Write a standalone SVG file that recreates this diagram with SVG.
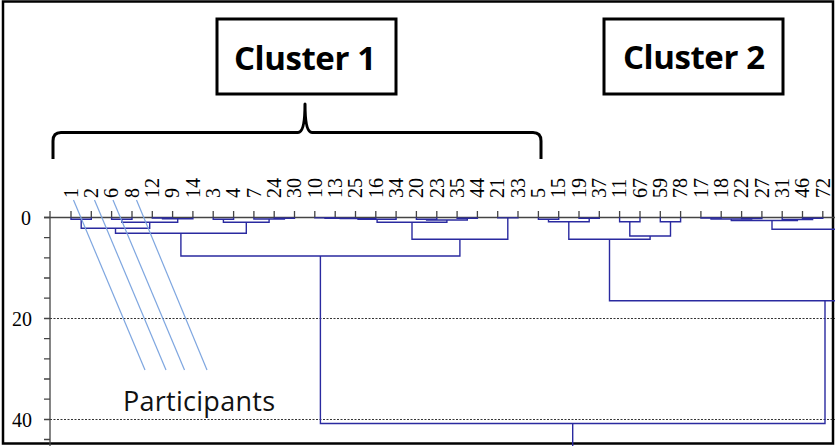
<svg xmlns="http://www.w3.org/2000/svg" width="835" height="446" viewBox="0 0 835 446">
<defs>
<style>
.frame{fill:#fff;stroke:#000;stroke-width:2.5}
.box{fill:#fff;stroke:#000;stroke-width:3}
.ctitle{font-family:"Open Sans","Liberation Sans",sans-serif;font-weight:700;font-size:33px;fill:#000;text-anchor:middle}
.brace{fill:none;stroke:#000;stroke-width:3;stroke-linejoin:round}
.axis{fill:none;stroke:#444;stroke-width:1.3}
.grid{fill:none;stroke:#333;stroke-width:1;stroke-dasharray:2 1.5}
.num{font-family:"Liberation Serif","Times New Roman",serif;font-size:20px;fill:#000}
.ylab{font-family:"Liberation Serif","Times New Roman",serif;font-size:20px;fill:#000;text-anchor:end}
.dend{fill:none;stroke:#2a2aa0;stroke-width:1.4}
.part{fill:none;stroke:#7ea6e0;stroke-width:1.2}
.ptext{font-family:"Open Sans","Liberation Sans",sans-serif;font-size:27px;fill:#111}
</style>
</defs>
<rect class="frame" x="3" y="1.5" width="830" height="442"/>

<g id="cluster1">
<rect class="box" x="217" y="19" width="179" height="75"/>
<text class="ctitle" x="305" y="70" textLength="142" lengthAdjust="spacing">Cluster 1</text>
</g>
<g id="cluster2">
<rect class="box" x="604" y="19" width="179" height="75"/>
<text class="ctitle" x="694" y="69" textLength="142" lengthAdjust="spacing">Cluster 2</text>
</g>
<g id="brace">
<path class="brace" d="M53,159 V141 Q53,132.5 61,132.5 H298 Q305,132.5 305,104 Q305,132.5 312,132.5 H533 Q541,132.5 541,141 V159"/>
</g>

<g id="grid">
<line class="grid" x1="50" y1="318.5" x2="835" y2="318.5"/>
<line class="grid" x1="50" y1="419.5" x2="835" y2="419.5"/>
</g>

<g id="axes">
<path class="axis" d="M50,211 V446 M44,217.5 H835"/>
<path class="axis" d="M44,217.5 H50 M44,237.7 H50 M44,257.8 H50 M44,278 H50 M44,298.2 H50 M44,318.5 H50 M44,338.7 H50 M44,358.8 H50 M44,379 H50 M44,399.2 H50 M44,419.5 H50 M44,439.5 H50"/>
<path class="axis" d="M71,211V217.5M91.3,211V217.5M111.6,211V217.5M132,211V217.5M152.3,211V217.5M172.6,211V217.5M192.9,211V217.5M213.2,211V217.5M233.6,211V217.5M253.9,211V217.5M274.2,211V217.5M294.5,211V217.5M314.8,211V217.5M335.2,211V217.5M355.5,211V217.5M375.8,211V217.5M396.1,211V217.5M416.4,211V217.5M436.8,211V217.5M457.1,211V217.5M477.4,211V217.5M497.7,211V217.5M518,211V217.5M538.4,211V217.5M558.7,211V217.5M579,211V217.5M599.3,211V217.5M619.6,211V217.5M640,211V217.5M660.3,211V217.5M680.6,211V217.5M700.9,211V217.5M721.2,211V217.5M741.6,211V217.5M761.9,211V217.5M782.2,211V217.5M802.5,211V217.5M822.8,211V217.5"/>
<text class="ylab" x="31" y="225">0</text>
<text class="ylab" x="32" y="325.5">20</text>
<text class="ylab" x="32" y="426.5">40</text>
</g>

<g id="leaf-labels" class="num">
<text transform="translate(77.7,198) rotate(-90)">1</text>
<text transform="translate(98,198) rotate(-90)">2</text>
<text transform="translate(118.3,198) rotate(-90)">6</text>
<text transform="translate(138.7,198) rotate(-90)">8</text>
<text transform="translate(159,198) rotate(-90)">12</text>
<text transform="translate(179.3,198) rotate(-90)">9</text>
<text transform="translate(199.6,198) rotate(-90)">14</text>
<text transform="translate(219.9,198) rotate(-90)">3</text>
<text transform="translate(240.3,198) rotate(-90)">4</text>
<text transform="translate(260.6,198) rotate(-90)">7</text>
<text transform="translate(280.9,198) rotate(-90)">24</text>
<text transform="translate(301.2,198) rotate(-90)">30</text>
<text transform="translate(321.5,198) rotate(-90)">10</text>
<text transform="translate(341.9,198) rotate(-90)">13</text>
<text transform="translate(362.2,198) rotate(-90)">25</text>
<text transform="translate(382.5,198) rotate(-90)">16</text>
<text transform="translate(402.8,198) rotate(-90)">34</text>
<text transform="translate(423.1,198) rotate(-90)">20</text>
<text transform="translate(443.5,198) rotate(-90)">23</text>
<text transform="translate(463.8,198) rotate(-90)">35</text>
<text transform="translate(484.1,198) rotate(-90)">44</text>
<text transform="translate(504.4,198) rotate(-90)">21</text>
<text transform="translate(524.7,198) rotate(-90)">33</text>
<text transform="translate(545.1,198) rotate(-90)">5</text>
<text transform="translate(565.4,198) rotate(-90)">15</text>
<text transform="translate(585.7,198) rotate(-90)">19</text>
<text transform="translate(606,198) rotate(-90)">37</text>
<text transform="translate(626.3,198) rotate(-90)">11</text>
<text transform="translate(646.7,198) rotate(-90)">67</text>
<text transform="translate(667,198) rotate(-90)">59</text>
<text transform="translate(687.3,198) rotate(-90)">78</text>
<text transform="translate(707.6,198) rotate(-90)">17</text>
<text transform="translate(727.9,198) rotate(-90)">18</text>
<text transform="translate(748.3,198) rotate(-90)">22</text>
<text transform="translate(768.6,198) rotate(-90)">27</text>
<text transform="translate(788.9,198) rotate(-90)">31</text>
<text transform="translate(809.2,198) rotate(-90)">46</text>
<text transform="translate(829.5,198) rotate(-90)">72</text>
</g>

<g id="connectors" class="dend">
<path d="M71,217.5V219.3H91.3V217.5"/>
<path d="M111.6,217.5V219.3H132V217.5"/>
<path d="M152.3,217.5V218H172.6V217.5"/>
<path d="M162.5,218V218.8H192.9V217.5"/>
<path d="M121.8,219.3V222.3H177.7V218.8"/>
<path d="M81.2,219.3V228.3H149.7V222.3"/>
<path d="M213.2,217.5V219.3H233.6V217.5"/>
<path d="M274.2,217.5V218.3H294.5V217.5"/>
<path d="M253.9,217.5V219H284.4V218.3"/>
<path d="M223.4,219.3V222.3H269.1V219"/>
<path d="M115.5,228.3V233.3H246.3V222.3"/>
<path d="M314.8,217.5V217.9H335.2V217.5"/>
<path d="M325,217.9V218.2H355.5V217.5"/>
<path d="M340.2,218.2V218.6H375.8V217.5"/>
<path d="M358,218.6V219.3H396.1V217.5"/>
<path d="M416.4,217.5V219.3H436.8V217.5"/>
<path d="M457.1,217.5V218.3H477.4V217.5"/>
<path d="M426.6,219.3V220H467.3V218.3"/>
<path d="M377.1,219.3V222.3H446.9V220"/>
<path d="M497.7,217.5V217.9H518V217.5"/>
<path d="M412,222.3V239.3H507.8V217.9"/>
<path d="M180.9,233.3V256H459.9V239.3"/>
<path d="M320.4,256V423.5H825V300.7"/>
<path d="M572.7,423.5V446"/>
<path d="M538.4,217.5V219.3H558.7V217.5"/>
<path d="M579,217.5V218.3H599.3V217.5"/>
<path d="M548.5,219.3V221.7H589.2V218.3"/>
<path d="M619.6,217.5V221.7H640V217.5"/>
<path d="M660.3,217.5V221.7H680.6V217.5"/>
<path d="M629.8,221.7V236H670.5V221.7"/>
<path d="M568.8,221.7V239.3H650.1V236"/>
<path d="M609.5,239.3V300.7H835"/>
<path d="M700.9,217.5V218H721.2V217.5"/>
<path d="M741.6,217.5V218.5H761.9V217.5"/>
<path d="M711,218V219H751.7V218.5"/>
<path d="M802.5,217.5V218.3H822.8V217.5"/>
<path d="M782.2,217.5V219.5H812.6V218.3"/>
<path d="M731.3,219V220.5H797.4V219.5"/>
<path d="M772,220.5V229.3H835"/>
</g>

<g id="participants">
<line class="part" x1="73.5" y1="200" x2="145" y2="370"/>
<line class="part" x1="94.5" y1="200" x2="166" y2="370"/>
<line class="part" x1="113" y1="200" x2="184.5" y2="370"/>
<line class="part" x1="136.5" y1="200" x2="207" y2="370"/>
<text class="ptext" x="123" y="411" textLength="152" lengthAdjust="spacing">Participants</text>
</g>
</svg>
